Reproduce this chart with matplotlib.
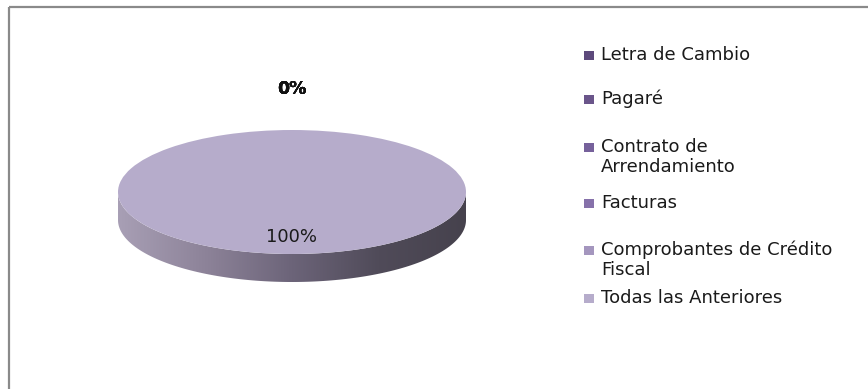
import numpy as np
import matplotlib
matplotlib.use("Agg")
import matplotlib.pyplot as plt
from matplotlib.patches import Rectangle, PathPatch
from matplotlib.path import Path
from matplotlib.colors import LinearSegmentedColormap

plt.rcParams['font.family'] = ['DejaVu Sans']

categories = ["Letra de Cambio", "Pagaré", "Contrato de\nArrendamiento", "Facturas",
              "Comprobantes de Crédito\nFiscal", "Todas las Anteriores"]
values = [0, 0, 0, 0, 0, 100]
colors = ["#5d4a7c", "#6a558a", "#76619b", "#8671aa", "#a496be", "#b6accb"]

W, H = 868, 389
fig = plt.figure(figsize=(W / 100, H / 100), dpi=100)

# full-figure overlay in pixel units for frame and legend
bg = fig.add_axes([0, 0, 1, 1])
bg.set_xlim(0, W)
bg.set_ylim(H, 0)
bg.axis("off")
bg.add_patch(Rectangle((9, 7), 870, 400, fill=False, edgecolor="#8a8a8a", lw=1.6))

# pie axes: squashed so the circle becomes an ellipse (3D look)
left_px, right_px = 118, 466
top_px, face_h = 130, 124          # top face spans y in [-1, 1]
unit = 2.0 / face_h                # data units per pixel in y
ylo, yhi = -1.6, 2.0
ax_h = (yhi - ylo) / unit
ax_top = top_px - (yhi - 1.0) / unit
ax = fig.add_axes([left_px / W, 1 - (ax_top + ax_h) / H,
                   (right_px - left_px) / W, ax_h / H])

depth = 28 * unit

# side wall of the disc with a horizontal shading gradient
t = np.linspace(np.pi, 2 * np.pi, 200)
xs = np.cos(t)
ys = np.sin(t)
verts = np.concatenate([np.column_stack([xs, ys]),
                        np.column_stack([xs[::-1], ys[::-1] - depth])])
side_path = Path(np.vstack([verts, verts[:1]]),
                 [Path.MOVETO] + [Path.LINETO] * (len(verts) - 1) + [Path.CLOSEPOLY])
side_patch = PathPatch(side_path, facecolor="none", edgecolor="none")
ax.add_patch(side_patch)
cmap = LinearSegmentedColormap.from_list(
    "side", ["#a89fb5", "#8d8399", "#6c6479", "#504b59", "#46424d"])
grad = np.linspace(0, 1, 256).reshape(1, -1)
im = ax.imshow(grad, cmap=cmap, extent=(-1, 1, -1 - depth, 0),
               aspect="auto", zorder=1)
im.set_clip_path(side_patch)

wedges, _ = ax.pie(values, colors=colors, startangle=90, counterclock=False,
                   radius=1, wedgeprops=dict(linewidth=0))
for w in wedges:
    w.set_zorder(2)

total = sum(values)
for w, v in zip(wedges, values):
    mid = np.deg2rad((w.theta1 + w.theta2) / 2)
    pct = f"{v / total * 100:.0f}%"
    if v > 0:
        r = 0.73
        ax.text(r * np.cos(mid), r * np.sin(mid), pct, ha="center", va="center",
                fontsize=13, color="#1a1a1a", zorder=3)
    else:
        r = 1.66
        ax.text(r * np.cos(mid), r * np.sin(mid), pct, ha="center", va="center",
                fontsize=12.5, fontweight="bold", color="#111111", zorder=3)

ax.set_aspect("auto")
ax.set_xlim(-1, 1)
ax.set_ylim(ylo, yhi)
ax.axis("off")

# legend entries (wrapped labels drawn line by line)
legend_y = [55, 99, 147, 203, 250, 298]
line_gap = 20
for lab, col, y in zip(categories, colors, legend_y):
    bg.add_patch(Rectangle((584, y - 4.5), 10, 9, facecolor=col, edgecolor="none"))
    for i, line in enumerate(lab.split("\n")):
        bg.text(601, y + i * line_gap, line, ha="left", va="center", fontsize=13,
                color="#1a1a1a")

fig.savefig("out.png", dpi=100)
